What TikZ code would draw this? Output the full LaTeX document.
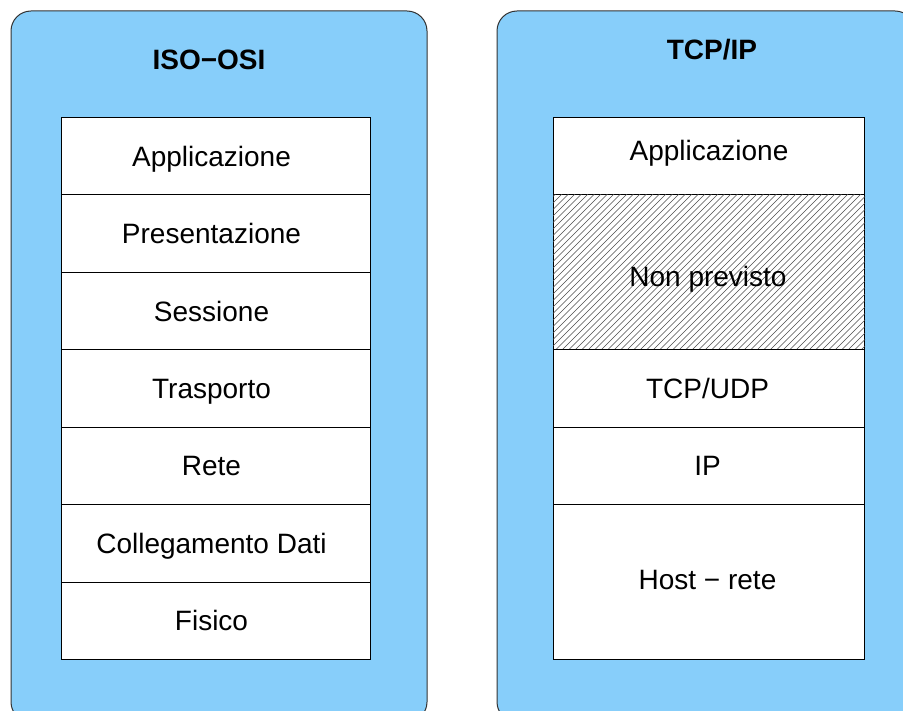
\documentclass[tikz,border=0pt]{standalone}
\usepackage{fontspec}
\setmainfont{Liberation Sans}
\definecolor{panelblue}{RGB}{135,206,250}
\begin{document}
\begin{tikzpicture}[x=1pt,y=-1pt,
  panel/.style={draw=black!80, line width=1pt, fill=panelblue, rounded corners=20pt},
  layer/.style={draw=black, line width=1pt, fill=white, minimum width=309pt,
    inner sep=0pt, anchor=north west, text depth=0pt, font=\fontsize{28}{32}\selectfont},
  osilayer/.style={layer, minimum height=77.43pt, execute at end node={\hspace*{9pt}}},
  tcplayer/.style={layer, minimum width=311pt, execute at end node={\hspace*{3pt}}},
  lbl/.style={font=\fontsize{28}{32}\selectfont, inner sep=0pt, text depth=0pt},
  title/.style={font=\bfseries\fontsize{28}{32}\selectfont, inner sep=0pt}]
\useasboundingbox (0,0) rectangle (903,711);
\clip (0,0) rectangle (903,711);

% two panels, running off the page
\draw[panel] (11,11) rectangle (427,722);
\draw[panel] (497,11) rectangle (915,722);

\node[title] (tiso) at (209,60) {ISO−OSI};
\node[title] (ttcp) at (712,50) {TCP/IP};

% ISO-OSI stack
\node[osilayer] (o1) at (61,117) {Applicazione};
\node[osilayer] (o2) at (61,194.43) {Presentazione};
\node[osilayer] (o3) at (61,271.86) {Sessione};
\node[osilayer] (o4) at (61,349.29) {Trasporto};
\node[osilayer] (o5) at (61,426.72) {Rete};
\node[osilayer] (o6) at (61,504.15) {Collegamento Dati};
\node[osilayer] (o7) at (61,581.58) {Fisico};

% TCP/IP stack
\node[layer, minimum width=311pt, minimum height=77.43pt] (p1) at (553,117) {};
\node[lbl] (p1t) at ([yshift=6pt]p1.center) {Applicazione};
\node[layer, minimum width=311pt, minimum height=155pt] (p2) at (553,194.43) {};
\begin{scope}
  \clip (p2.north west) rectangle (p2.south east);
  \foreach \i in {-160,-153.5,...,320}
    \draw[black!70, line width=0.5pt] (553+\i,350) -- (553+\i+157,193);
\end{scope}
\node[lbl] (p2t) at ([yshift=-4pt,xshift=-1pt]p2.center) {Non previsto};
\node[tcplayer, minimum height=77.43pt] (p3) at (553,349.43) {TCP/UDP};
\node[tcplayer, minimum height=77.43pt] (p4) at (553,426.86) {IP};
\node[layer, minimum width=311pt, minimum height=154.5pt] (p5) at (553,504.29) {};
\node[lbl] (p5t) at ([yshift=2pt,xshift=-1.5pt]p5.center) {Host − rete};
\end{tikzpicture}
\end{document}
